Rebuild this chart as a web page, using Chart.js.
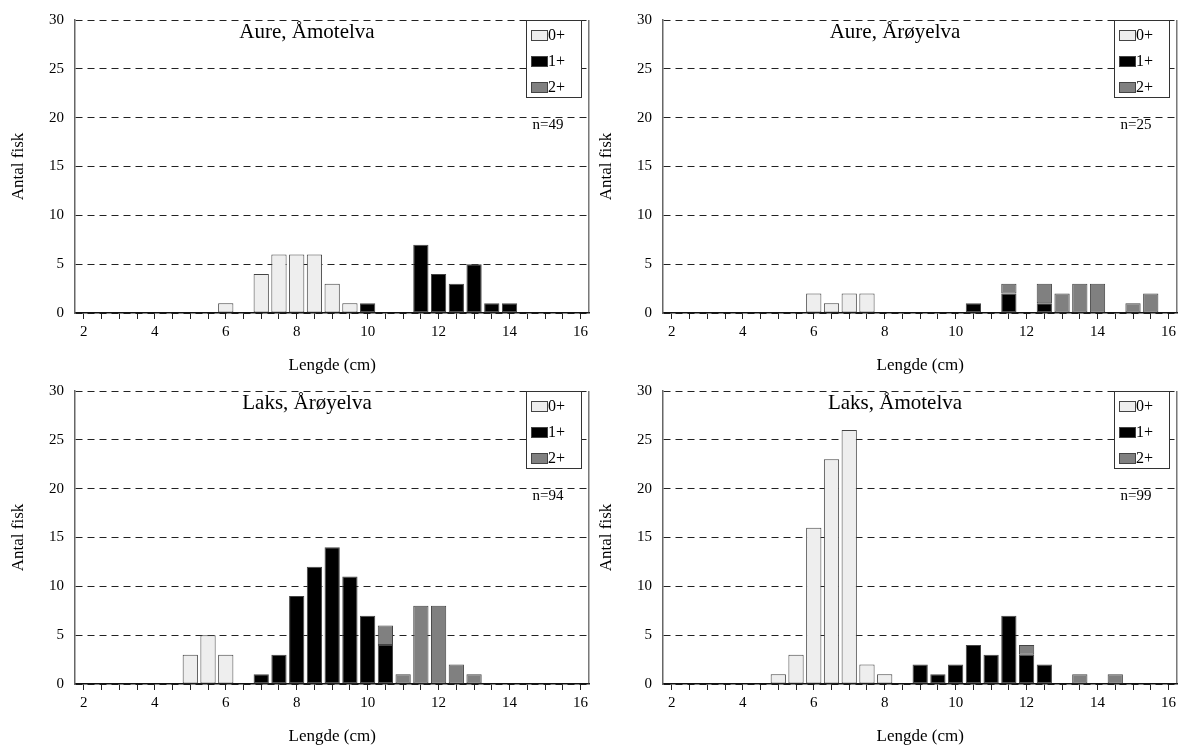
<!DOCTYPE html>
<html>
<head>
<meta charset="utf-8">
<script src="https://cdn.jsdelivr.net/npm/chart.js@4.4.1/dist/chart.umd.min.js"></script>
<style>
  body { margin: 0; background: #fff; }
  #wrap { position: relative; width: 1184px; height: 749px; overflow: hidden; }
  canvas { position: absolute; }
</style>
</head>
<body>
<div id="wrap">
  <canvas id="c1" width="592" height="380" style="left:0;top:0"></canvas>
  <canvas id="c2" width="592" height="380" style="left:588px;top:0"></canvas>
  <canvas id="c3" width="592" height="378" style="left:0;top:371px"></canvas>
  <canvas id="c4" width="592" height="378" style="left:588px;top:371px"></canvas>
</div>
<script>
// length bins (cm)
const bins = ['2','2.5','3','3.5','4','4.5','5','5.5','6','6.5','7','7.5','8','8.5','9','9.5',
              '10','10.5','11','11.5','12','12.5','13','13.5','14','14.5','15','15.5','16'];
const ageLabels = ['0+', '1+', '2+'];

// Aure, Åmotelva
const aureAmot0 = [0,0,0,0,0,0,0,0,1,0,4,6,6,6,3,1,0,0,0,0,0,0,0,0,0,0,0,0,0];
const aureAmot1 = [0,0,0,0,0,0,0,0,0,0,0,0,0,0,0,0,1,0,0,7,4,3,5,1,1,0,0,0,0];
const aureAmot2 = [0,0,0,0,0,0,0,0,0,0,0,0,0,0,0,0,0,0,0,0,0,0,0,0,0,0,0,0,0];

// Aure, Årøyelva
const aureAroy0 = [0,0,0,0,0,0,0,0,2,1,2,2,0,0,0,0,0,0,0,0,0,0,0,0,0,0,0,0,0];
const aureAroy1 = [0,0,0,0,0,0,0,0,0,0,0,0,0,0,0,0,0,1,0,2,0,1,0,0,0,0,0,0,0];
const aureAroy2 = [0,0,0,0,0,0,0,0,0,0,0,0,0,0,0,0,0,0,0,1,0,2,2,3,3,0,1,2,0];

// Laks, Årøyelva
const laksAroy0 = [0,0,0,0,0,0,3,5,3,0,0,0,0,0,0,0,0,0,0,0,0,0,0,0,0,0,0,0,0];
const laksAroy1 = [0,0,0,0,0,0,0,0,0,0,1,3,9,12,14,11,7,4,0,0,0,0,0,0,0,0,0,0,0];
const laksAroy2 = [0,0,0,0,0,0,0,0,0,0,0,0,0,0,0,0,0,2,1,8,8,2,1,0,0,0,0,0,0];

// Laks, Åmotelva
const laksAmot0 = [0,0,0,0,0,0,1,3,16,23,26,2,1,0,0,0,0,0,0,0,0,0,0,0,0,0,0,0,0];
const laksAmot1 = [0,0,0,0,0,0,0,0,0,0,0,0,0,0,2,1,2,4,3,7,3,2,0,0,0,0,0,0,0];
const laksAmot2 = [0,0,0,0,0,0,0,0,0,0,0,0,0,0,0,0,0,0,0,0,1,0,0,1,0,1,0,0,0];

const yTicks = [0, 5, 10, 15, 20, 25, 30];
const ageColors = ['#eeeeee', '#000000', '#808080'];
const serif = "'Liberation Serif', 'Times New Roman', serif";

// frame, title, legend box and n= label inside the plot
const panelDecor = {
  id: 'panelDecor',
  afterDraw(chart) {
    const ctx = chart.ctx;
    const a = chart.chartArea;
    const o = chart.options.plugins.panelDecor;
    ctx.save();
    // right frame
    ctx.strokeStyle = '#333';
    ctx.lineWidth = 1;
    ctx.beginPath();
    ctx.moveTo(a.right - 0.5, a.top);
    ctx.lineTo(a.right - 0.5, a.bottom);
    ctx.stroke();
    // title
    ctx.fillStyle = '#000';
    ctx.font = '21px ' + serif;
    ctx.textAlign = 'center';
    ctx.textBaseline = 'alphabetic';
    ctx.fillText(o.title, 307, 38);
    // legend box
    ctx.fillStyle = '#fff';
    ctx.fillRect(526, 20, 55, 77);
    ctx.strokeStyle = '#333';
    ctx.strokeRect(526.5, 20.5, 55, 77);
    ageLabels.forEach((lab, i) => {
      const cy = 35 + i * 26;
      ctx.fillStyle = ageColors[i];
      ctx.fillRect(531, cy - 5, 16, 10);
      ctx.strokeStyle = '#444';
      ctx.strokeRect(531.5, cy - 4.5, 16, 10);
      ctx.fillStyle = '#000';
      ctx.font = '16px ' + serif;
      ctx.textAlign = 'left';
      ctx.textBaseline = 'middle';
      ctx.fillText(lab, 548, cy + 1);
    });
    // sample size
    ctx.font = '15px ' + serif;
    ctx.textAlign = 'center';
    ctx.fillText(o.n, 548, 125);
    ctx.restore();
  }
};

function makePanel(id, title, n, s0, s1, s2) {
  const canvas = document.getElementById(id);
  const H = canvas.height;
  new Chart(canvas, {
    type: 'bar',
    data: {
      labels: bins,
      datasets: [s0, s1, s2].map((d, i) => ({
        label: ageLabels[i],
        data: d,
        backgroundColor: ageColors[i],
        borderColor: '#444',
        borderWidth: 1,
        borderSkipped: false,
        categoryPercentage: 1,
        barPercentage: 0.86
      }))
    },
    options: {
      responsive: false,
      animation: false,
      layout: { padding: { left: 0, top: 15, right: 1, bottom: 0 } },
      plugins: {
        legend: { display: false },
        tooltip: { enabled: false },
        panelDecor: { title: title, n: n }
      },
      scales: {
        x: {
          stacked: true,
          offset: true,
          afterFit: s => { s.height = H - 313; },
          grid: {
            offset: false,
            drawOnChartArea: false,
            drawTicks: true,
            tickLength: 6,
            color: '#222'
          },
          border: { color: '#111', width: 1.5 },
          ticks: {
            autoSkip: false,
            maxRotation: 0,
            padding: 4,
            color: '#000',
            font: { family: serif, size: 15 },
            callback: function (val) {
              const l = this.getLabelForValue(val);
              return Number(l) % 2 === 0 ? l : '';
            }
          },
          title: {
            display: true,
            text: 'Lengde (cm)',
            color: '#000',
            font: { family: serif, size: 17 },
            padding: { top: 0, bottom: H > 379 ? 4 : 2 }
          }
        },
        y: {
          stacked: true,
          min: 0,
          max: 30,
          afterFit: s => { s.width = 75; },
          afterBuildTicks: s => { s.ticks = yTicks.map(v => ({ value: v })); },
          grid: {
            drawTicks: false,
            color: '#222',
            lineWidth: 1
          },
          // dash applies to the horizontal grid lines, the axis line stays solid
          border: { color: '#666', width: 1.5, dash: [7, 5] },
          ticks: {
            padding: 11,
            color: '#000',
            font: { family: serif, size: 15 }
          },
          title: {
            display: true,
            text: 'Antal fisk',
            color: '#000',
            font: { family: serif, size: 17 },
            padding: { top: 8, bottom: 0 }
          }
        }
      }
    },
    plugins: [panelDecor]
  });
}

makePanel('c1', 'Aure, Åmotelva', 'n=49', aureAmot0, aureAmot1, aureAmot2);
makePanel('c2', 'Aure, Årøyelva', 'n=25', aureAroy0, aureAroy1, aureAroy2);
makePanel('c3', 'Laks, Årøyelva', 'n=94', laksAroy0, laksAroy1, laksAroy2);
makePanel('c4', 'Laks, Åmotelva', 'n=99', laksAmot0, laksAmot1, laksAmot2);
</script>
</body>
</html>
